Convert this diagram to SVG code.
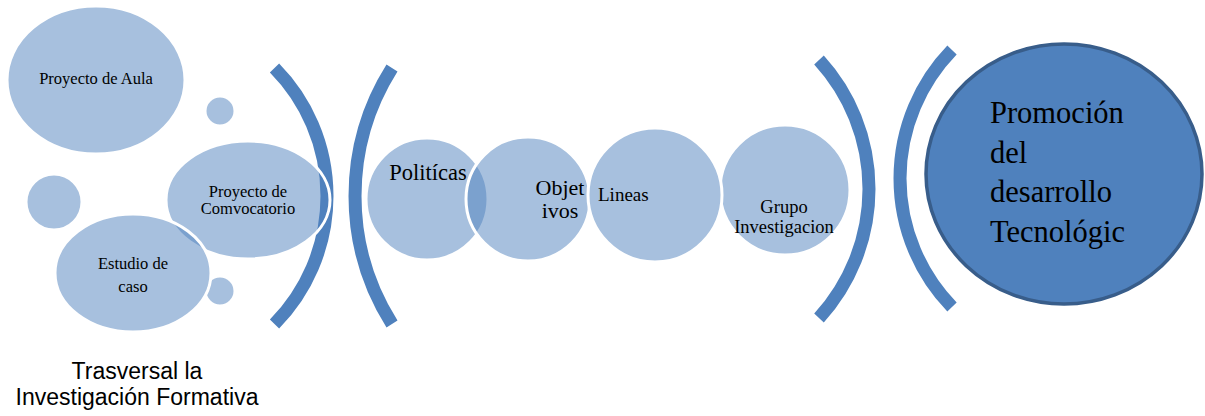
<svg xmlns="http://www.w3.org/2000/svg" width="1205" height="416" viewBox="0 0 1205 416">
<style>
.bub{fill:#4F81BD;fill-opacity:0.5;stroke:#FFFFFF;stroke-width:3}
.arc{fill:none;stroke:#4F81BD;stroke-width:13;stroke-linecap:butt}
.t{font-family:"Liberation Serif","DejaVu Serif",serif;fill:#000000}
.s{font-family:"Liberation Sans","DejaVu Sans",sans-serif;fill:#000000}
</style>
<rect width="1205" height="416" fill="#FFFFFF"/>
<g id="connectors">
<path class="arc" d="M274.5,68 A182.3,182.3 0 0 1 274.5,324"/>
<path class="arc" d="M392,68 A240,240 0 0 0 392,324"/>
<path class="arc" d="M819,60 A191.4,191.4 0 0 1 819,318"/>
<path class="arc" d="M952,50 A184.8,184.8 0 0 0 952,307"/>
</g>
<g id="proyecto-aula">
<ellipse class="bub" cx="96" cy="80" rx="89" ry="74"/>
<text class="t" x="96" y="84" font-size="16.5" text-anchor="middle">Proyecto de Aula</text>
</g>
<g id="dot-1"><circle class="bub" cx="220" cy="111" r="15"/></g>
<g id="dot-2"><circle class="bub" cx="54" cy="202" r="28"/></g>
<g id="dot-3"><circle class="bub" cx="220" cy="291" r="15"/></g>
<g id="proyecto-comvocatorio">
<ellipse class="bub" cx="248" cy="200" rx="82" ry="59"/>
<text class="t" x="248" y="197" font-size="16.5" text-anchor="middle">Proyecto de</text>
<text class="t" x="248" y="214" font-size="16.5" text-anchor="middle">Comvocatorio</text>
</g>
<g id="estudio-caso">
<ellipse class="bub" cx="133" cy="273" rx="78" ry="59"/>
<text class="t" x="133" y="269" font-size="16.5" text-anchor="middle">Estudio de</text>
<text class="t" x="133" y="292" font-size="16.5" text-anchor="middle">caso</text>
</g>
<g id="politicas">
<circle class="bub" cx="427" cy="199" r="61"/>
<text class="t" x="428" y="180" font-size="22.5" text-anchor="middle">Politícas</text>
</g>
<g id="objetivos">
<circle class="bub" cx="528" cy="199" r="62"/>
<text class="t" x="560" y="195" font-size="22" text-anchor="middle">Objet</text>
<text class="t" x="560" y="218" font-size="22" text-anchor="middle">ivos</text>
</g>
<g id="grupo-investigacion">
<circle class="bub" cx="785" cy="190" r="65"/>
<text class="t" x="784" y="213" font-size="18.5" text-anchor="middle">Grupo</text>
<text class="t" x="784" y="233" font-size="18.5" text-anchor="middle">Investigacion</text>
</g>
<g id="lineas">
<circle class="bub" cx="655" cy="195" r="67"/>
<text class="t" x="598" y="201" font-size="19">Lineas</text>
</g>
<g id="promocion">
<ellipse cx="1064" cy="174" rx="138" ry="130" fill="#4F81BD" stroke="#385D8A" stroke-width="3.5"/>
<text class="t" x="990" y="123" font-size="30.5">Promoción</text>
<text class="t" x="990" y="163" font-size="30.5">del</text>
<text class="t" x="990" y="202" font-size="30.5">desarrollo</text>
<text class="t" x="990" y="242" font-size="30.5">Tecnológic</text>
</g>
<g id="caption">
<text class="s" x="137" y="379" font-size="23" text-anchor="middle">Trasversal la</text>
<text class="s" x="137" y="405" font-size="23" text-anchor="middle">Investigación Formativa</text>
</g>
</svg>
